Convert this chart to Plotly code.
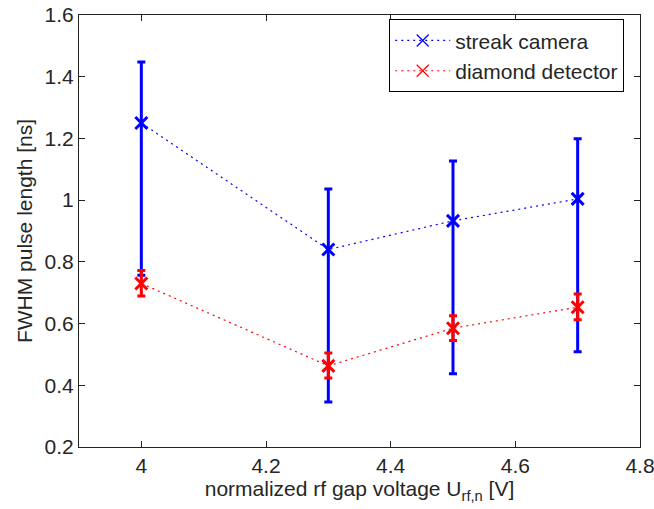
import plotly.graph_objects as go

voltage = [4.0, 4.3, 4.5, 4.7]

streak = [1.25, 0.84, 0.933, 1.004]
streak_plus = [0.198, 0.196, 0.194, 0.195]
streak_minus = [0.493, 0.494, 0.496, 0.495]

diamond = [0.73, 0.463, 0.585, 0.653]
diamond_plus = [0.042, 0.042, 0.04, 0.043]
diamond_minus = [0.041, 0.039, 0.04, 0.041]

series = [
    ("streak camera", streak, streak_plus, streak_minus, "#0000ff"),
    ("diamond detector", diamond, diamond_plus, diamond_minus, "#ff0000"),
]

fig = go.Figure()

for name, y, plus, minus, col in series:
    fig.add_trace(go.Scatter(
        x=voltage, y=y, name=name, showlegend=False,
        mode="lines+markers",
        line=dict(color=col, width=1.2, dash="2px,4px"),
        marker=dict(symbol="x-thin", size=12, line=dict(color=col, width=3)),
        error_y=dict(type="data", symmetric=False, array=plus, arrayminus=minus,
                     color=col, thickness=3, width=4),
    ))

# entradas de leyenda con la x fina como en matlab
for name, y, plus, minus, col in series:
    fig.add_trace(go.Scatter(
        x=[None], y=[None], name=name, mode="lines+markers",
        line=dict(color=col, width=1.2, dash="2px,4px"),
        marker=dict(symbol="x-thin", size=12, line=dict(color=col, width=1.2)),
    ))

axis_style = dict(
    showgrid=False, zeroline=False,
    showline=True, linecolor="#222", linewidth=1, mirror="ticks",
    ticks="inside", ticklen=6, tickcolor="#222",
    tickfont=dict(size=21, color="#262626"),
    ticklabeloverflow="allow",
    automargin=False,
)

fig.update_xaxes(range=[3.9, 4.8], dtick=0.2, tick0=4.0,
                 title=dict(text="normalized rf gap voltage U<sub>rf,n</sub> [V]",
                            standoff=2, font=dict(size=21, color="#262626")),
                 **axis_style)
fig.update_yaxes(range=[0.2, 1.6], dtick=0.2,
                 title=dict(text="FWHM pulse length [ns]", standoff=6,
                            font=dict(size=21, color="#262626")),
                 **axis_style)

fig.update_layout(
    width=654, height=509,
    margin=dict(l=79, r=14, t=15, b=62),
    plot_bgcolor="white", paper_bgcolor="white",
    font=dict(family="Liberation Sans, Arial, sans-serif", size=21, color="#262626"),
    legend=dict(x=0.553, y=0.99, xanchor="left", yanchor="top",
                bgcolor="white", bordercolor="black", borderwidth=1,
                font=dict(size=21, color="#262626"),
                tracegroupgap=0, itemwidth=55),
)

fig.write_html("out.html", config={"displayModeBar": False},
               post_script="document.body.style.margin='0';")
